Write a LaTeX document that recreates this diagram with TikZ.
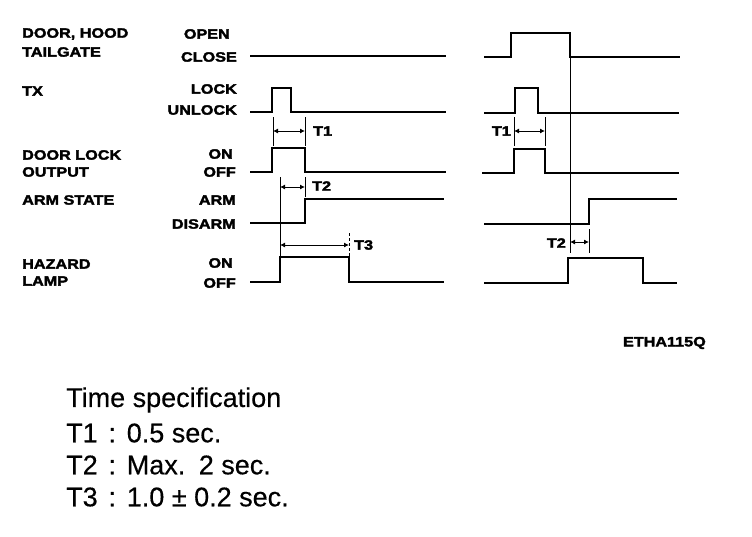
\documentclass[tikz,border=0pt]{standalone}
\usepackage{fontspec}
\setmainfont{Liberation Sans}
\newfontfamily\lblfont[FakeStretch=1.2,FakeBold=2.5]{Liberation Sans Bold}
\newfontfamily\specfont[FakeBold=0.4]{Liberation Sans}
\usetikzlibrary{arrows.meta}
\tikzset{
  sig/.style={line width=2.6pt},
  thinline/.style={line width=0.8pt},
  dimarrow/.style={line width=0.9pt,{Latex[length=5pt,width=5pt]}-{Latex[length=5pt,width=5pt]}},
  lbl/.style={font=\lblfont\fontsize{13.5}{13.5}\selectfont, inner sep=0pt},
  spec/.style={font=\specfont\fontsize{27}{27}\selectfont, inner sep=0pt, anchor=west},
}
\begin{document}
\begin{tikzpicture}[x=1pt,y=-1pt]
\useasboundingbox (0,0) rectangle (752,536);
% left labels
\node[lbl,anchor=west] (l1a) at (22,34) {DOOR, HOOD};
\node[lbl,anchor=west] (l1b) at (22,52) {TAILGATE};
\node[lbl,anchor=west] (l2) at (22,91) {TX};
\node[lbl,anchor=west] (l3a) at (22,155) {DOOR LOCK};
\node[lbl,anchor=west] (l3b) at (22,172) {OUTPUT};
\node[lbl,anchor=west] (l4) at (22,200) {ARM STATE};
\node[lbl,anchor=west] (l5a) at (22,264) {HAZARD};
\node[lbl,anchor=west] (l5b) at (22,281) {LAMP};
% state labels
\node[lbl,anchor=east] (s1) at (230,34) {OPEN};
\node[lbl,anchor=east] (s2) at (237,57) {CLOSE};
\node[lbl,anchor=east] (s3) at (237,89) {LOCK};
\node[lbl,anchor=east] (s4) at (237,110) {UNLOCK};
\node[lbl,anchor=east] (s5) at (233,154) {ON};
\node[lbl,anchor=east] (s6) at (236,172) {OFF};
\node[lbl,anchor=east] (s7) at (236,200) {ARM};
\node[lbl,anchor=east] (s8) at (236,224) {DISARM};
\node[lbl,anchor=east] (s9) at (233,263) {ON};
\node[lbl,anchor=east] (s10) at (236,283) {OFF};
% waveforms left
\draw[sig] (250,56)--(446,56);
\draw[sig] (250,112)--(272,112)--(272,88)--(291,88)--(291,112)--(446,112);
\draw[sig] (250,172)--(272,172)--(272,148)--(305,148)--(305,172)--(446,172);
\draw[sig] (250,223)--(305,223)--(305,199)--(444,199);
\draw[sig] (250,282)--(280,282)--(280,257)--(349,257)--(349,282)--(444,282);
% waveforms right
\draw[sig] (484,57)--(511,57)--(511,33)--(570,33)--(570,57)--(680,57);
\draw[sig] (484,113)--(515,113)--(515,88)--(538,88)--(538,113)--(679,113);
\draw[sig] (482,173)--(514,173)--(514,149)--(545,149)--(545,173)--(679,173);
\draw[sig] (484,224)--(589,224)--(589,199)--(677,199);
\draw[sig] (484,283)--(568,283)--(568,258)--(643,258)--(643,283)--(677,283);
% timing marks left
\coordinate (t1a) at (273,131);
\coordinate (t1b) at (305,131);
\draw[thinline] (273,117)--(273,146);
\draw[thinline] (305,117)--(305,146);
\draw[dimarrow] (t1a)--(t1b);
\node[lbl,anchor=west] (T1l) at (313,131) {T1};
\coordinate (t2a) at (280,187);
\coordinate (t2b) at (305,187);
\draw[thinline] (280,177)--(280,257);
\draw[thinline] (305,177)--(305,197);
\draw[dimarrow] (t2a)--(t2b);
\node[lbl,anchor=west] (T2l) at (312,186) {T2};
\coordinate (t3a) at (280,245);
\coordinate (t3b) at (349,245);
\draw[thinline,densely dashed] (349,233)--(349,256);
\draw[dimarrow] (t3a)--(t3b);
\node[lbl,anchor=west] (T3l) at (354,245) {T3};
% timing marks right
\coordinate (r1a) at (514,131);
\coordinate (r1b) at (545,131);
\draw[thinline] (514,117)--(514,146);
\draw[thinline] (545,117)--(545,146);
\draw[dimarrow] (r1a)--(r1b);
\node[lbl,anchor=east] (T1r) at (511,131) {T1};
\coordinate (r2a) at (570,242);
\coordinate (r2b) at (589,242);
\draw[thinline] (570,58)--(570,253);
\draw[thinline] (589,229)--(589,253);
\draw[dimarrow] (r2a)--(r2b);
\node[lbl,anchor=east] (T2r) at (566,243) {T2};
% figure code
\node[lbl,anchor=east] (code) at (706,343) {ETHA115Q};
% specification
\node[spec] (sp0) at (66,400) {Time specification};
\node[spec] (sp1) at (66,433) {T1\hspace{0.4em}:\hspace{0.4em}0.5 sec.};
\node[spec] (sp2) at (66,465) {T2\hspace{0.4em}:\hspace{0.4em}Max.\hspace{0.5em}2 sec.};
\node[spec] (sp3) at (66,497) {T3\hspace{0.4em}:\hspace{0.4em}1.0 ± 0.2 sec.};
\end{tikzpicture}
\end{document}
